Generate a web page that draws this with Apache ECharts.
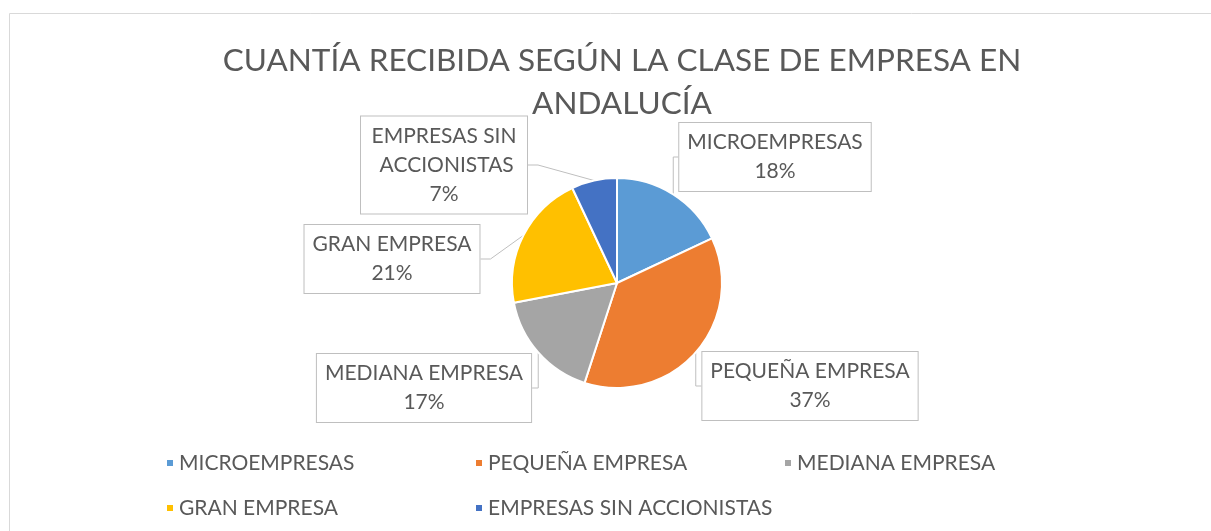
<!DOCTYPE html>
<html>
<head>
<meta charset="utf-8">
<script src="https://cdn.jsdelivr.net/npm/echarts@6/dist/echarts.min.js"></script>
<style>
  html, body { margin: 0; padding: 0; background: #fff; }
  #chart { width: 1211px; height: 531px; }
</style>
</head>
<body>
<div id="chart"></div>
<script>
// datos
const categories = ['MICROEMPRESAS', 'PEQUEÑA EMPRESA', 'MEDIANA EMPRESA', 'GRAN EMPRESA', 'EMPRESAS SIN ACCIONISTAS'];
const shares = [18, 37, 17, 21, 7];
const colors = ['#5B9BD5', '#ED7D31', '#A5A5A5', '#FFC000', '#4472C4'];

// centro de cada cuadro de etiqueta
const labelPos = [[775, 157], [810, 386], [424, 388], [392, 259], [444, 165]];

const font = 'Lato, "Open Sans", sans-serif';
const chart = echarts.init(document.getElementById('chart'));

chart.setOption({
  color: colors,
  animation: false,
  title: {
    text: 'CUANTÍA RECIBIDA SEGÚN LA CLASE DE EMPRESA EN\nANDALUCÍA',
    left: 617,
    top: 34,
    textAlign: 'center',
    textStyle: { fontFamily: font, fontWeight: 'normal', fontSize: 31.5, color: '#595959', lineHeight: 43 }
  },
  graphic: [{
    type: 'rect',
    shape: { x: 9.5, y: 13.5, width: 1230, height: 540 },
    style: { fill: 'none', stroke: '#d9d9d9', lineWidth: 1 },
    silent: true
  }],
  legend: {
    left: 160,
    top: 438,
    width: 940,
    icon: 'rect',
    itemWidth: 8,
    itemHeight: 8,
    itemGap: 5,
    textStyle: { fontFamily: font, fontSize: 21, color: '#595959', width: 290, lineHeight: 40 },
    data: categories
  },
  series: [{
    type: 'pie',
    center: [617, 283],
    radius: 105,
    startAngle: 90,
    percentPrecision: 0,
    itemStyle: { borderColor: '#fff', borderWidth: 2 },
    label: {
      show: true,
      formatter: '{b}\n{d}%',
      fontFamily: font,
      fontSize: 21,
      lineHeight: 29,
      color: '#595959',
      align: 'center',
      backgroundColor: '#fff',
      borderColor: '#bfbfbf',
      borderWidth: 1,
      padding: [5, 8]
    },
    labelLine: { show: true, length: 10, length2: 10, lineStyle: { color: '#bfbfbf', width: 1 } },
    labelLayout: function (params) {
      const p = labelPos[params.dataIndex];
      return { x: p[0], y: p[1], align: 'center', verticalAlign: 'middle' };
    },
    data: categories.map(function (name, i) {
      const item = { name: name, value: shares[i] };
      if (i === 4) item.label = { width: 150, overflow: 'break' };
      return item;
    })
  }]
});
</script>
</body>
</html>
